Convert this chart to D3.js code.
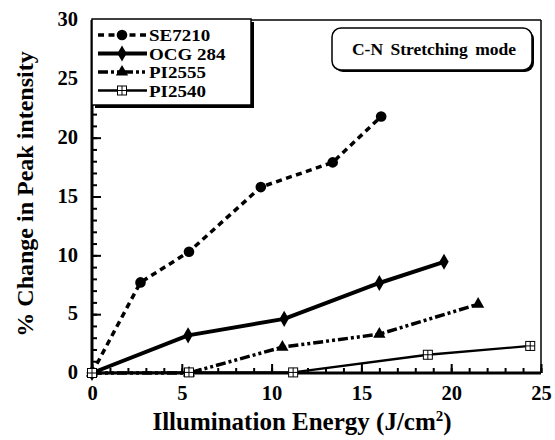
<!DOCTYPE html>
<html>
<head>
<meta charset="utf-8">
<script src="https://cdn.jsdelivr.net/npm/d3@7"></script>
<style>
  html, body { margin: 0; padding: 0; background: #fff; }
  svg { display: block; }
  text { font-family: 'Liberation Serif', 'Times New Roman', serif; font-weight: bold; fill: #000; }
</style>
</head>
<body>
<svg id="chart" width="555" height="440"></svg>
<script>
// Illumination energy (J/cm^2) and % change in C-N peak intensity per resist
const se7210X = [0, 2.7, 5.4, 9.4, 13.4, 16.1];
const se7210Y = [0, 7.7, 10.3, 15.8, 17.9, 21.8];
const ocg284X = [0, 5.35, 10.7, 16.0, 19.6];
const ocg284Y = [0, 3.2, 4.6, 7.65, 9.45];
const pi2555X = [0, 5.4, 10.6, 16.0, 21.5];
const pi2555Y = [0, 0, 2.2, 3.3, 5.85];
const pi2540X = [0, 5.4, 11.2, 18.7, 24.4];
const pi2540Y = [0, 0.05, 0.05, 1.55, 2.3];

const seriesNames = ["SE7210", "OCG 284", "PI2555", "PI2540"];
const xTicks = [0, 5, 10, 15, 20, 25];
const yTicks = [0, 5, 10, 15, 20, 25, 30];
const xTitle = "Illumination Energy (J/cm";
const yTitle = "% Change in Peak intensity";
const noteText = "C-N Stretching mode";

const FONT = "'Liberation Serif', 'Times New Roman', serif";
const svg = d3.select("#chart");
const plotL = 92, plotR = 541, plotT = 20, plotB = 373;
const x = d3.scaleLinear().domain([0, 25]).range([plotL, plotR]);
const y = d3.scaleLinear().domain([0, 30]).range([plotB, plotT]);

// frame: thin top/right edges
svg.append("line").attr("x1", plotL).attr("x2", plotR).attr("y1", plotT).attr("y2", plotT)
  .attr("stroke", "#000").attr("stroke-width", 1.5);
svg.append("line").attr("x1", plotR).attr("x2", plotR).attr("y1", plotT).attr("y2", plotB)
  .attr("stroke", "#000").attr("stroke-width", 1.5);

// minor ticks every 1 unit, pointing inward
const xMinor = svg.append("g").attr("transform", `translate(0,${plotB})`)
  .call(d3.axisBottom(x).tickValues(d3.range(0, 26, 1)).tickSize(-5).tickFormat(""));
const yMinor = svg.append("g").attr("transform", `translate(${plotL},0)`)
  .call(d3.axisLeft(y).tickValues(d3.range(0, 31, 1)).tickSize(-5).tickFormat(""));

// major ticks with labels
const xAxis = svg.append("g").attr("transform", `translate(0,${plotB})`)
  .call(d3.axisBottom(x).tickValues(xTicks).tickSize(-9).tickPadding(12).tickFormat(d3.format("d")));
const yAxis = svg.append("g").attr("transform", `translate(${plotL},0)`)
  .call(d3.axisLeft(y).tickValues(yTicks).tickSize(-9).tickPadding(14).tickFormat(d3.format("d")));

[xMinor, yMinor, xAxis, yAxis].forEach(g => {
  g.attr("font-family", FONT);
  g.select(".domain").remove();
  g.selectAll(".tick line").attr("stroke", "#000").attr("stroke-width", 2);
});
[xAxis, yAxis].forEach(g => {
  g.selectAll(".tick text").style("font-size", "20.5px")
    .style("font-family", FONT).style("font-weight", "bold");
});
yAxis.selectAll(".tick text").attr("dy", "0.28em");

// heavy axis lines
svg.append("line").attr("x1", plotL).attr("x2", plotR).attr("y1", plotB).attr("y2", plotB)
  .attr("stroke", "#000").attr("stroke-width", 3);
svg.append("line").attr("x1", plotL).attr("x2", plotL).attr("y1", plotT).attr("y2", plotB + 1.5)
  .attr("stroke", "#000").attr("stroke-width", 3);

// axis titles
svg.append("text").attr("x", 302).attr("y", 430).attr("text-anchor", "middle")
  .style("font-size", "25px")
  .call(t => {
    t.append("tspan").text(xTitle);
    t.append("tspan").attr("dy", -9).style("font-size", "15px").text("2");
    t.append("tspan").attr("dy", 9).text(")");
  });
svg.append("text").attr("transform", "translate(33,194) rotate(-90)")
  .attr("text-anchor", "middle").style("font-size", "24px").text(yTitle);

// series
const series = [
  { name: seriesNames[0], xs: se7210X, ys: se7210Y, width: 3.5, dash: "6,4.5", marker: "circle" },
  { name: seriesNames[1], xs: ocg284X, ys: ocg284Y, width: 4, dash: null, marker: "diamond" },
  { name: seriesNames[2], xs: pi2555X, ys: pi2555Y, width: 3.5, dash: "10,3,3,3,3,3", marker: "triangle" },
  { name: seriesNames[3], xs: pi2540X, ys: pi2540Y, width: 2.3, dash: null, marker: "square" }
];

const line = d3.line().x(d => x(d[0])).y(d => y(d[1]));

function drawMarker(g, kind, cx, cy) {
  if (kind === "circle") {
    g.append("circle").attr("cx", cx).attr("cy", cy).attr("r", 5.3).attr("fill", "#000");
  } else if (kind === "diamond") {
    g.append("path").attr("d", d3.symbol(d3.symbolDiamond, 75)())
      .attr("transform", `translate(${cx},${cy})`).attr("fill", "#000");
  } else if (kind === "triangle") {
    g.append("path").attr("d", d3.symbol(d3.symbolTriangle, 65)())
      .attr("transform", `translate(${cx},${cy})`).attr("fill", "#000");
  } else {
    const s = 9;
    g.append("rect").attr("x", cx - s / 2).attr("y", cy - s / 2).attr("width", s).attr("height", s)
      .attr("fill", "#fff").attr("stroke", "#000").attr("stroke-width", 1);
    g.append("line").attr("x1", cx).attr("x2", cx).attr("y1", cy - s / 2).attr("y2", cy + s / 2)
      .attr("stroke", "#000").attr("stroke-width", 1);
    g.append("line").attr("x1", cx - s / 2).attr("x2", cx + s / 2).attr("y1", cy).attr("y2", cy)
      .attr("stroke", "#000").attr("stroke-width", 1);
  }
}

const plot = svg.append("g");
series.forEach(s => {
  const pts = s.xs.map((v, i) => [v, s.ys[i]]);
  plot.append("path").datum(pts).attr("d", line)
    .attr("fill", "none").attr("stroke", "#000").attr("stroke-width", s.width)
    .attr("stroke-dasharray", s.dash).attr("stroke-linejoin", "round");
});
series.forEach(s => {
  const g = plot.append("g");
  s.xs.forEach((v, i) => drawMarker(g, s.marker, x(v), y(s.ys[i])));
});

// legend box with drop shadow
const lg = svg.append("g");
lg.append("rect").attr("x", 95).attr("y", 22).attr("width", 159).attr("height", 86).attr("fill", "#000");
lg.append("rect").attr("x", 92).attr("y", 19).attr("width", 159).attr("height", 86)
  .attr("fill", "#fff").attr("stroke", "#000").attr("stroke-width", 1.5);
series.forEach((s, i) => {
  const ly = 35 + i * 18.5;
  lg.append("line").attr("x1", 98).attr("x2", 147).attr("y1", ly).attr("y2", ly)
    .attr("stroke", "#000").attr("stroke-width", s.width).attr("stroke-dasharray", s.dash);
  drawMarker(lg, s.marker, 122, ly);
  lg.append("text").attr("transform", `translate(149,${ly + 6}) scale(1.15,1)`)
    .style("font-size", "16.5px").text(s.name);
});

// annotation box
const nb = svg.append("g");
nb.append("rect").attr("x", 334).attr("y", 30).attr("width", 200).attr("height", 42).attr("rx", 9)
  .attr("fill", "#000");
nb.append("rect").attr("x", 332).attr("y", 28).attr("width", 200).attr("height", 42).attr("rx", 9)
  .attr("fill", "#fff").attr("stroke", "#000").attr("stroke-width", 1.5);
nb.append("text").attr("x", 434).attr("y", 55).attr("text-anchor", "middle")
  .style("font-size", "17.5px").style("word-spacing", "3px").text(noteText);
</script>
</body>
</html>
